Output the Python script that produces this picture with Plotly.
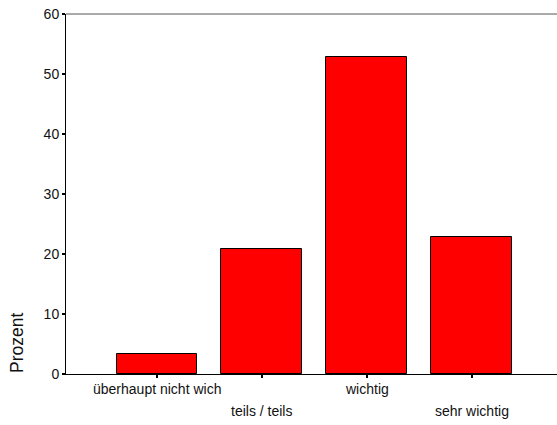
import plotly.graph_objects as go

categories = ["überhaupt nicht wich", "teils / teils", "wichtig", "sehr wichtig"]
percent = [3.4, 20.8, 52.9, 22.9]
y_ticks = [0, 10, 20, 30, 40, 50, 60]
y_label = "Prozent"

FONT = "Liberation Sans, Arial, sans-serif"

fig = go.Figure()
fig.add_trace(go.Bar(
    x=list(range(len(categories))),
    y=percent,
    width=0.77,
    marker=dict(color="#FF0000", line=dict(color="black", width=1)),
    hoverinfo="skip",
))

# staggered category labels
annotations = []
for i, c in enumerate(categories):
    annotations.append(dict(
        x=i, y=0, xref="x", yref="paper", text=c, showarrow=False,
        yanchor="top", xanchor="center",
        yshift=-5 if i % 2 == 0 else -27,
        font=dict(family=FONT, size=14, color="#111"),
    ))
annotations.append(dict(
    x=0, y=0, xref="paper", yref="paper", text=y_label, showarrow=False,
    textangle=-90, xanchor="center", yanchor="middle",
    xshift=-49, yshift=31,
    font=dict(family=FONT, size=17.5, color="#111"),
))

fig.update_layout(
    width=557, height=425,
    margin=dict(l=66, r=0, t=14, b=51),
    paper_bgcolor="white", plot_bgcolor="white",
    showlegend=False,
    bargap=0,
    annotations=annotations,
    xaxis=dict(
        range=[-0.867, 3.814], showgrid=False, zeroline=False,
        showline=True, linecolor="black", linewidth=1,
        tickmode="array", tickvals=list(range(len(categories))),
        showticklabels=False,
        ticks="outside", ticklen=3, tickwidth=2, tickcolor="black",
    ),
    yaxis=dict(
        range=[0, 60], showgrid=False, zeroline=False,
        showline=True, linecolor="black", linewidth=1,
        tickmode="array", tickvals=y_ticks,
        ticks="outside", ticklen=3, tickwidth=2, tickcolor="black",
        tickfont=dict(family=FONT, size=14, color="#111"),
    ),
    shapes=[dict(type="line", xref="paper", yref="paper", x0=0, x1=1, y0=1, y1=1,
                 line=dict(color="#555", width=1))],
)

fig.write_html("out.html", config={"displayModeBar": False},
               post_script="document.body.style.margin='0';document.body.style.overflow='hidden';")
